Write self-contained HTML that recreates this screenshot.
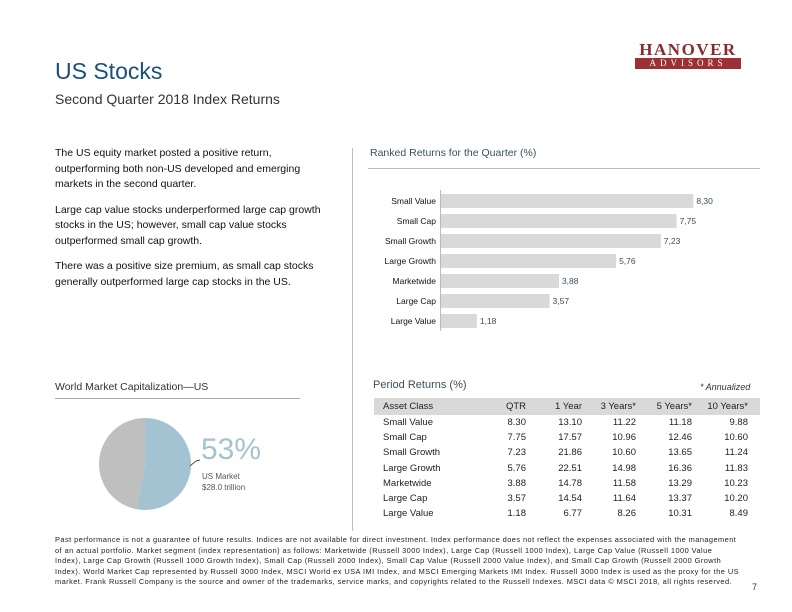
<!DOCTYPE html>
<html><head><meta charset="utf-8"><style>
body{margin:0;width:792px;height:612px;background:#fff;position:relative;font-family:"Liberation Sans",Arial,sans-serif;overflow:hidden}
.a{position:absolute;white-space:nowrap}
</style></head><body>
<div class="a" style="left:55px;top:58px;font-size:23px;color:#1a4f7a">US Stocks</div>
<div class="a" style="left:55px;top:91px;font-size:14px;color:#333">Second Quarter 2018 Index Returns</div>
<div class="a" style="left:635px;top:41px;width:106px;text-align:center">
 <div style="font-family:'Liberation Serif',serif;font-size:17px;font-weight:bold;color:#8a2a2e;letter-spacing:1.5px;line-height:17px">HANOVER</div>
 <div style="background:#9c3034;color:#fff;font-family:'Liberation Serif',serif;font-size:9px;letter-spacing:4px;line-height:11px">ADVISORS</div>
</div>
<div class="a" style="left:55px;top:146px;width:282px;white-space:normal;font-size:10.5px;line-height:15.5px;color:#111">
<p style="margin:0 0 10px">The US equity market posted a positive return, outperforming both non-US developed and emerging markets in the second quarter.</p>
<p style="margin:0 0 10px">Large cap value stocks underperformed large cap growth stocks in the US; however, small cap value stocks outperformed small cap growth.</p>
<p style="margin:0">There was a positive size premium, as small cap stocks generally outperformed large cap stocks in the US.</p>
</div>
<div class="a" style="left:352px;top:148px;width:1px;height:383px;background:#bbb"></div>
<div class="a" style="left:370px;top:147px;font-size:10.5px;color:#3a4f5e">Ranked Returns for the Quarter (%)</div>
<div class="a" style="left:368px;top:168px;width:392px;height:1px;background:#bbb"></div>
<svg class="a" style="left:0;top:0" width="792" height="612" id="bars"></svg>
<div class="a" style="left:55px;top:381px;font-size:10.5px;color:#333">World Market Capitalization—US</div>
<div class="a" style="left:55px;top:398px;width:245px;height:1px;background:#aaa"></div>
<svg class="a" style="left:0;top:0" width="300" height="530" id="pie"></svg>
<div class="a" style="left:201px;top:433px;font-size:30px;color:#a4c3d2">53%</div>
<div class="a" style="left:202px;top:471px;font-size:8px;line-height:11px;color:#555">US Market<br>$28.0 trillion</div>
<div class="a" style="left:373px;top:379px;font-size:11px;color:#3a4f5e">Period Returns (%)</div>
<div class="a" style="left:700px;top:382px;font-size:9px;font-style:italic;color:#333">* Annualized</div>
<div class="a" style="left:374px;top:398px;width:386px;height:17px;background:#d9d9d9"></div>
<div id="tbl"></div>
<div class="a" style="left:55px;top:535px;width:685px;white-space:normal;font-size:7.4px;line-height:10.6px;letter-spacing:0.45px;color:#222">Past performance is not a guarantee of future results. Indices are not available for direct investment. Index performance does not reflect the expenses associated with the management of an actual portfolio. Market segment (index representation) as follows: Marketwide (Russell 3000 Index), Large Cap (Russell 1000 Index), Large Cap Value (Russell 1000 Value Index), Large Cap Growth (Russell 1000 Growth Index), Small Cap (Russell 2000 Index), Small Cap Value (Russell 2000 Value Index), and Small Cap Growth (Russell 2000 Growth Index). World Market Cap represented by Russell 3000 Index, MSCI World ex USA IMI Index, and MSCI Emerging Markets IMI Index. Russell 3000 Index is used as the proxy for the US market. Frank Russell Company is the source and owner of the trademarks, service marks, and copyrights related to the Russell Indexes. MSCI data © MSCI 2018, all rights reserved.</div>
<div class="a" style="left:752px;top:582px;font-size:9px;color:#333">7</div>
<script>
const barCats=["Small Value","Small Cap","Small Growth","Large Growth","Marketwide","Large Cap","Large Value"];
const barVals=[8.30,7.75,7.23,5.76,3.88,3.57,1.18];
const barLabels=["8,30","7,75","7,23","5,76","3,88","3,57","1,18"];
const pieVals=[53,47];
const tblHead=["Asset Class","QTR","1 Year","3 Years*","5 Years*","10 Years*"];
const tblCats=["Small Value","Small Cap","Small Growth","Large Growth","Marketwide","Large Cap","Large Value"];
const tblQtr=["8.30","7.75","7.23","5.76","3.88","3.57","1.18"];
const tbl1y=["13.10","17.57","21.86","22.51","14.78","14.54","6.77"];
const tbl3y=["11.22","10.96","10.60","14.98","11.58","11.64","8.26"];
const tbl5y=["11.18","12.46","13.65","16.36","13.29","13.37","10.31"];
const tbl10y=["9.88","10.60","11.24","11.83","10.23","10.20","8.49"];
const NS="http://www.w3.org/2000/svg";
function mk(p,t,a){const e=document.createElementNS(NS,t);for(const k in a)e.setAttribute(k,a[k]);p.appendChild(e);return e;}
const x0=441,sx=30.4,y0=201,dy=20;
const X=v=>x0+v*sx, Y=i=>y0+i*dy;
const bs=document.getElementById('bars');
const ax=mk(bs,'line',{x1:440.5,x2:440.5,y1:190,y2:331,stroke:'#bbb'});


barVals.forEach((v,i)=>{
 const r=mk(bs,'rect',{x:x0,y:Y(i)-7,width:X(v)-x0,height:14,fill:'#d9d9d9'});
 
 
 const c=mk(bs,'text',{x:436,y:Y(i)+3,'text-anchor':'end','font-size':'8.5',fill:'#111'});c.textContent=barCats[i];
 
 
 const l=mk(bs,'text',{x:X(v)+3,y:Y(i)+3,'font-size':'8.5',fill:'#3a4f5e'});l.textContent=barLabels[i];
 
 
});
const ps=document.getElementById('pie');const cx=145,cy=464,R=46;
let tot=pieVals.reduce((a,b)=>a+b,0),ang=-Math.PI/2;const cols=['#a4c3d2','#bfbfbf'];
pieVals.forEach((v,i)=>{const a2=ang+v/tot*2*Math.PI;const large=(a2-ang)>Math.PI?1:0;
 const p=mk(ps,'path',{d:`M${cx},${cy}L${cx+R*Math.cos(ang)},${cy+R*Math.sin(ang)}A${R},${R} 0 ${large} 1 ${cx+R*Math.cos(a2)},${cy+R*Math.sin(a2)}Z`,fill:cols[i]});
 
 ang=a2;});
const ln=mk(ps,'path',{d:`M${cx+R-1},${cy+2} L196,${cy-3} L200,${cy-4}`,stroke:'#222',fill:'none','stroke-width':'0.8'});


const T=document.getElementById('tbl');
const colR=[null,526,582,636,692,748];const cols2=[tblCats,tblQtr,tbl1y,tbl3y,tbl5y,tbl10y];
function cell(txt,x,y,right,name){const d=document.createElement('div');d.className='a';
 
 
 d.style.cssText=`top:${y}px;font-size:9.5px;color:#222;`+(right?`right:${792-x}px`:`left:${x}px`);d.textContent=txt;T.appendChild(d);}
tblHead.forEach((h,j)=>cell(h,j?colR[j]:383,401,j>0,'table-header-cell'));
for(let i=0;i<tblCats.length;i++)for(let j=0;j<6;j++)cell(cols2[j][i],j?colR[j]:383,417+i*15.2,j>0,j?'table-value-cell':'table-row-label');
</script>
</body></html>
